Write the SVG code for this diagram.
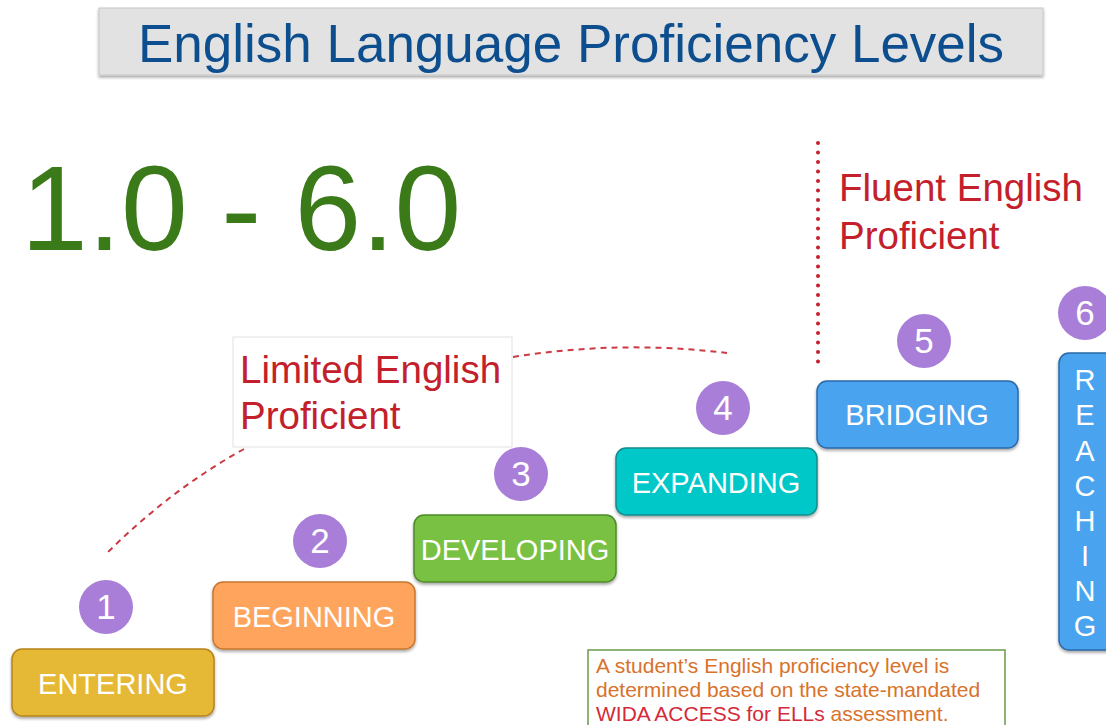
<svg xmlns="http://www.w3.org/2000/svg" width="1106" height="725" viewBox="0 0 1106 725">
<defs>
<style>
.lvl{stroke-width:1.5}
.lbl{font-family:"Liberation Sans",Arial,sans-serif;font-size:29px;fill:#ffffff;text-anchor:middle}
.num{font-family:"Liberation Sans",Arial,sans-serif;font-size:35px;fill:#ffffff;text-anchor:middle}
.circ{fill:#a87ed8}
.red{font-family:"Liberation Sans",Arial,sans-serif;font-size:38.5px;fill:#c3202c}
.dash{fill:none;stroke:#cc3a44;stroke-width:2;stroke-dasharray:6 5}
</style>
<filter id="sh" x="-10%" y="-10%" width="120%" height="130%">
<feDropShadow dx="0" dy="2" stdDeviation="1.5" flood-color="#000" flood-opacity="0.35"/>
</filter>
</defs>
<rect width="1106" height="725" fill="#ffffff"/>
<g id="title">
<rect x="99" y="8" width="944" height="67" fill="#e2e2e2" stroke="#c8c8c8" filter="url(#sh)"/>
<text x="571" y="62" font-family="'Liberation Sans',Arial,sans-serif" font-size="53" fill="#0d4e8e" text-anchor="middle">English Language Proficiency Levels</text>
</g>
<g id="range">
<text x="21" y="250" font-family="'Liberation Sans',Arial,sans-serif" font-size="120" fill="#3a7a18">1.0 - 6.0</text>
</g>
<g id="connectors">
<path class="dash" d="M513 357 Q620 340 727 353"/>
<path class="dash" d="M244 449 Q170 490 105 555"/>
<line x1="818" y1="143" x2="818" y2="362" stroke="#c3202c" stroke-width="4" stroke-linecap="round" stroke-dasharray="0 9.5"/>
</g>
<g id="lep">
<rect x="233" y="337" width="279" height="110" fill="#ffffff" stroke="#e2e2e2"/>
<text class="red" x="240" y="383">Limited English</text>
<text class="red" x="240" y="429">Proficient</text>
</g>
<g id="fep">
<text class="red" x="839" y="201">Fluent English</text>
<text class="red" x="839" y="249">Proficient</text>
</g>
<g id="level1">
<rect class="lvl" x="12" y="649" width="202" height="67" rx="10" fill="#e5b935" stroke="#b8831e" filter="url(#sh)"/>
<text class="lbl" x="113" y="694">ENTERING</text>
<circle class="circ" cx="106" cy="607" r="27"/>
<text class="num" x="106" y="619">1</text>
</g>
<g id="level2">
<rect class="lvl" x="213" y="582" width="202" height="67" rx="10" fill="#ffa45c" stroke="#c7772f" filter="url(#sh)"/>
<text class="lbl" x="314" y="627">BEGINNING</text>
<circle class="circ" cx="320" cy="541" r="27"/>
<text class="num" x="320" y="553">2</text>
</g>
<g id="level3">
<rect class="lvl" x="414" y="515" width="202" height="67" rx="10" fill="#79c143" stroke="#4f8a2a" filter="url(#sh)"/>
<text class="lbl" x="515" y="560">DEVELOPING</text>
<circle class="circ" cx="521" cy="474" r="27"/>
<text class="num" x="521" y="486">3</text>
</g>
<g id="level4">
<rect class="lvl" x="616" y="448" width="201" height="67" rx="10" fill="#00c8c8" stroke="#138c8c" filter="url(#sh)"/>
<text class="lbl" x="716" y="493">EXPANDING</text>
<circle class="circ" cx="723" cy="408" r="27"/>
<text class="num" x="723" y="420">4</text>
</g>
<g id="level5">
<rect class="lvl" x="817" y="381" width="201" height="67" rx="10" fill="#4aa3ee" stroke="#2a6aa8" filter="url(#sh)"/>
<text class="lbl" x="917" y="425">BRIDGING</text>
<circle class="circ" cx="924" cy="341" r="27"/>
<text class="num" x="924" y="353">5</text>
</g>
<g id="level6">
<rect class="lvl" x="1059" y="353" width="60" height="297" rx="10" fill="#4aa3ee" stroke="#2a6aa8" filter="url(#sh)"/>
<text class="lbl" font-size="25" x="1085" y="390">R</text>
<text class="lbl" font-size="25" x="1085" y="425">E</text>
<text class="lbl" font-size="25" x="1085" y="461">A</text>
<text class="lbl" font-size="25" x="1085" y="496">C</text>
<text class="lbl" font-size="25" x="1085" y="531">H</text>
<text class="lbl" font-size="25" x="1085" y="566">I</text>
<text class="lbl" font-size="25" x="1085" y="601">N</text>
<text class="lbl" font-size="25" x="1085" y="636">G</text>
<circle class="circ" cx="1085" cy="313" r="27"/>
<text class="num" x="1085" y="325">6</text>
</g>
<g id="note">
<rect x="588" y="650" width="417" height="80" fill="#ffffff" stroke="#6a9a4a" stroke-width="1.5"/>
<text font-family="'Liberation Sans',Arial,sans-serif" font-size="21" fill="#d9722a">
<tspan x="596" y="673">A student’s English proficiency level is</tspan>
<tspan x="596" y="697">determined based on the state-mandated</tspan>
<tspan x="596" y="721"><tspan fill="#d42a3a">WIDA ACCESS for ELLs</tspan> assessment.</tspan>
</text>
</g>
</svg>
